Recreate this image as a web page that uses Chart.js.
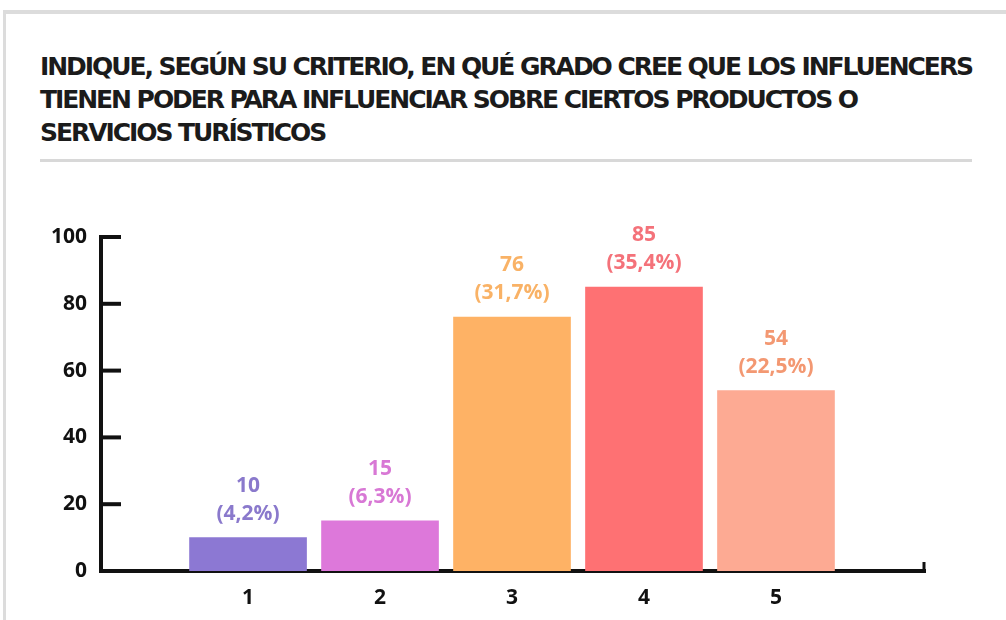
<!DOCTYPE html>
<html>
<head>
<meta charset="utf-8">
<script src="https://cdn.jsdelivr.net/npm/chart.js@4.4.1/dist/chart.umd.min.js"></script>
<style>
  html, body { margin: 0; padding: 0; background: #ffffff; }
  #wrap { position: relative; width: 1006px; height: 620px; overflow: hidden; background: #fff; }
  #frameTop { position: absolute; left: 3px; top: 10px; width: 1003px; height: 4px; background: #dcdcdc; }
  #frameLeft { position: absolute; left: 3px; top: 10px; width: 3px; height: 610px; background: #dcdcdc; }
  #title { position: absolute; left: 40px; top: 50px; font-family: 'Liberation Sans Narrow', 'DejaVu Sans', sans-serif; font-weight: bold; font-size: 25px; line-height: 33px; color: #1b1b1b; white-space: nowrap; }
  #sep { position: absolute; left: 40px; top: 159px; width: 932px; height: 3px; background: #d8d8d8; }
  canvas { position: absolute; left: 0; top: 0; }
</style>
</head>
<body>
<div id="wrap">
  <div id="frameTop"></div>
  <div id="frameLeft"></div>
  <div id="title"><div id="t1">INDIQUE, SEGÚN SU CRITERIO, EN QUÉ GRADO CREE QUE LOS INFLUENCERS</div><div>TIENEN PODER PARA INFLUENCIAR SOBRE CIERTOS PRODUCTOS O</div><div>SERVICIOS TURÍSTICOS</div></div>
  <div id="sep"></div>
  <canvas id="c" width="1006" height="620"></canvas>
</div>
<script>
const categories = [1, 2, 3, 4, 5];
const counts = [10, 15, 76, 85, 54];
const percents = ['4,2%', '6,3%', '31,7%', '35,4%', '22,5%'];
const yTicks = [0, 20, 40, 60, 80, 100];
const barColors = ['#8c78d3', '#dd78da', '#feb265', '#fe7173', '#fdaa93'];
const labelColors = ['#8a79cc', '#d878d5', '#f9b266', '#f4727a', '#f39872'];

// fit title line 1 width
(function(){
  const t1 = document.getElementById('t1');
  const w = t1.getBoundingClientRect().width;
  const target = 932;
  const n = t1.textContent.length;
  const ls = (target - w) / n;
  document.getElementById('title').style.letterSpacing = ls.toFixed(3) + 'px';
})();

const FONT = "'Open Sans', 'DejaVu Sans', sans-serif";

const decorPlugin = {
  id: 'decor',
  afterDraw(chart) {
    const ctx = chart.ctx;
    const y = chart.scales.y, x = chart.scales.x;
    ctx.save();
    ctx.strokeStyle = '#111';
    ctx.lineWidth = 4;
    ctx.lineCap = 'butt';
    yTicks.forEach(v => {
      const py = y.getPixelForValue(v);
      if (v === 0) return;
      ctx.beginPath();
      ctx.moveTo(x.left, py);
      ctx.lineTo(x.left + 20, py);
      ctx.stroke();
    });
    // right-end tick of x axis
    ctx.lineWidth = 3;
    ctx.beginPath();
    ctx.moveTo(x.right - 1, y.bottom + 1);
    ctx.lineTo(x.right - 1, y.bottom - 9);
    ctx.stroke();
    ctx.restore();
  },
  afterDatasetsDraw(chart) {
    const ctx = chart.ctx;
    const meta = chart.getDatasetMeta(0);
    ctx.save();
    ctx.textAlign = 'center';
    ctx.textBaseline = 'middle';
    ctx.font = "bold 21px " + FONT;
    meta.data.forEach((bar, i) => {
      ctx.fillStyle = labelColors[i];
      ctx.fillText(String(counts[i]), bar.x, bar.y - 52);
      ctx.fillText('(' + percents[i] + ')', bar.x, bar.y - 24);
    });
    ctx.restore();
  }
};

new Chart(document.getElementById('c'), {
  type: 'bar',
  data: {
    datasets: [{
      data: categories.map((c, i) => ({ x: c, y: counts[i] })),
      backgroundColor: barColors,
      borderWidth: 0,
      barThickness: 117
    }]
  },
  options: {
    responsive: false,
    animation: false,
    events: [],
    layout: { padding: { left: 0, top: 237, right: 81, bottom: 0 } },
    plugins: { legend: { display: false }, tooltip: { enabled: false }, title: { display: false } },
    scales: {
      x: {
        type: 'linear',
        bounds: 'data',
        offset: false,
        min: -0.114,
        max: 6.129,
        afterBuildTicks(scale) { scale.ticks = categories.map(v => ({ value: v })); },
        afterFit(scale) { scale.height = 49; },
        grid: { display: false, drawTicks: false, offset: false },
        border: { display: true, color: '#111', width: 4 },
        ticks: {
          autoSkip: false,
          maxRotation: 0,
          padding: 14,
          color: '#111',
          font: { family: FONT, size: 21, weight: 'bold' },
          callback: v => String(Math.round(v))
        }
      },
      y: {
        min: 0,
        max: 100,
        afterBuildTicks(scale) { scale.ticks = yTicks.map(v => ({ value: v })); },
        afterFit(scale) { scale.width = 101; },
        grid: { display: false, drawTicks: false },
        border: { display: true, color: '#111', width: 4 },
        ticks: {
          padding: 14,
          color: '#111',
          font: { family: FONT, size: 21, weight: 'bold' },
          callback: v => String(v)
        }
      }
    }
  },
  plugins: [decorPlugin]
});
</script>
</body>
</html>
